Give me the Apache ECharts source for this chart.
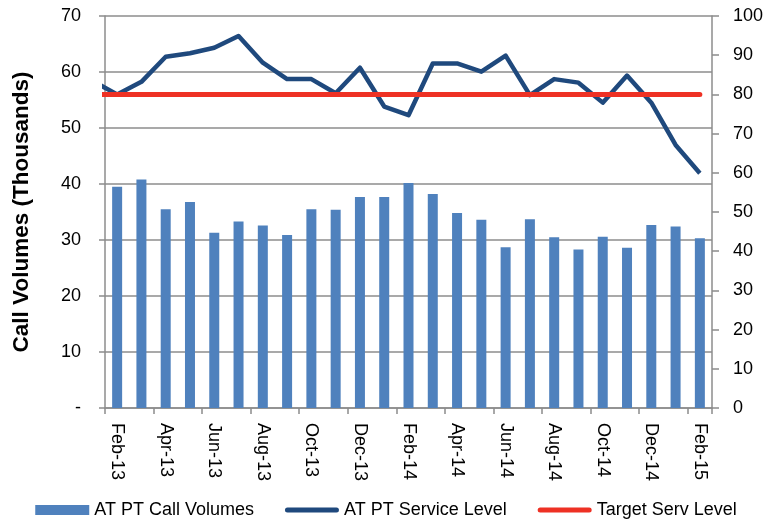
<!DOCTYPE html>
<html>
<head>
<meta charset="utf-8">
<script src="https://cdn.jsdelivr.net/npm/echarts@6/dist/echarts.min.js"></script>
<style>
  html, body { margin: 0; padding: 0; background: #fff; }
  #chart { width: 772px; height: 523px; }
</style>
</head>
<body>
<div id="chart"></div>
<script>
// Monthly categories, Feb-13 .. Feb-15
const months = ['Feb-13','Mar-13','Apr-13','May-13','Jun-13','Jul-13','Aug-13','Sep-13','Oct-13','Nov-13','Dec-13','Jan-14',
                'Feb-14','Mar-14','Apr-14','May-14','Jun-14','Jul-14','Aug-14','Sep-14','Oct-14','Nov-14','Dec-14','Jan-15','Feb-15'];

// Call volumes (thousands), left axis
const callVolumes = [39.5, 40.8, 35.5, 36.8, 31.3, 33.3, 32.6, 30.9, 35.5, 35.4, 37.7, 37.7,
                     40.2, 38.2, 34.8, 33.6, 28.7, 33.7, 30.5, 28.3, 30.6, 28.6, 32.7, 32.4, 30.3];

// Service level (%), right axis; the Jan-13 value sits just outside the plot and is clipped
const serviceLevelJan13 = 83.4;
const serviceLevel = [80.0, 83.2, 89.6, 90.5, 91.9, 94.9, 88.1, 83.9, 83.9, 80.3, 86.8, 76.9,
                      74.7, 87.9, 87.9, 85.8, 89.9, 79.8, 83.9, 83.0, 77.9, 84.8, 77.9, 67.1, 59.9];

// Target service level (%)
const targetLevel = 80;

// Tick labels
const leftTicks = ['-', '10', '20', '30', '40', '50', '60', '70'];

const FONT = 'Liberation Sans';
const GRID_GREY = '#8c8c8c';

// Line points placed on a hidden numeric x axis aligned with the category centres
const servicePoints = [[-1, serviceLevelJan13]].concat(serviceLevel.map((v, i) => [i, v]));
const targetPoints = [[-1, targetLevel]].concat(months.map((m, i) => [i, targetLevel]));

// Rounded bar used as the legend icon for the two line series
const lineIcon = 'path://M2.5,0 L51.5,0 A2.5,2.5 0 0 1 51.5,5 L2.5,5 A2.5,2.5 0 0 1 2.5,0 Z';

const chart = echarts.init(document.getElementById('chart'), null, { renderer: 'canvas' });

chart.setOption({
  animation: false,
  backgroundColor: '#ffffff',
  textStyle: { fontFamily: FONT },
  grid: { left: 105, right: 60, top: 16, bottom: 115, containLabel: false },
  legend: {
    top: 496,
    left: 'center',
    itemGap: 31,
    itemWidth: 54,
    itemHeight: 10,
    symbolKeepAspect: true,
    textStyle: { fontFamily: FONT, fontSize: 18, color: '#000' },
    data: [
      { name: 'AT PT Call Volumes', icon: 'rect' },
      { name: 'AT PT Service Level', icon: lineIcon },
      { name: 'Target Serv Level', icon: lineIcon }
    ]
  },
  xAxis: [
    {
      type: 'category',
      data: months,
      boundaryGap: true,
      axisLine: { lineStyle: { color: GRID_GREY, width: 1.5 } },
      axisTick: { show: true, interval: 1, length: 6, lineStyle: { color: GRID_GREY, width: 1.5 } },
      axisLabel: {
        interval: 1,
        rotate: -90,
        margin: 15,
        fontFamily: FONT,
        fontSize: 18,
        color: '#000'
      },
      splitLine: { show: false }
    },
    {
      type: 'value',
      min: -0.5,
      max: 24.5,
      show: false
    }
  ],
  yAxis: [
    {
      type: 'value',
      min: 0,
      max: 70,
      interval: 10,
      position: 'left',
      name: 'Call Volumes (Thousands)',
      nameLocation: 'middle',
      nameGap: 72,
      nameRotate: 90,
      nameTextStyle: { fontFamily: FONT, fontSize: 22.5, fontWeight: 'bold', color: '#000' },
      axisLine: { show: true, onZero: false, lineStyle: { color: GRID_GREY, width: 1.5 } },
      axisTick: { show: true, length: 6, lineStyle: { color: GRID_GREY, width: 1.5 } },
      axisLabel: {
        margin: 24,
        fontFamily: FONT,
        fontSize: 18,
        color: '#000',
        formatter: (v) => leftTicks[Math.round(v / 10)]
      },
      splitLine: { show: true, lineStyle: { color: GRID_GREY, width: 1.5 } }
    },
    {
      type: 'value',
      min: 0,
      max: 100,
      interval: 10,
      position: 'right',
      axisLine: { show: true, onZero: false, lineStyle: { color: GRID_GREY, width: 1.5 } },
      axisTick: { show: true, length: 7, lineStyle: { color: GRID_GREY, width: 1.5 } },
      axisLabel: { margin: 21, fontFamily: FONT, fontSize: 18, color: '#000' },
      splitLine: { show: false }
    }
  ],
  series: [
    {
      name: 'AT PT Call Volumes',
      type: 'bar',
      xAxisIndex: 0,
      yAxisIndex: 0,
      barWidth: 10,
      data: callVolumes,
      itemStyle: { color: '#4F81BD' }
    },
    {
      name: 'AT PT Service Level',
      type: 'line',
      xAxisIndex: 1,
      yAxisIndex: 1,
      data: servicePoints,
      symbol: 'none',
      clip: true,
      lineStyle: { color: '#1F497D', width: 4.5, join: 'round' },
      itemStyle: { color: '#1F497D' },
      z: 3
    },
    {
      name: 'Target Serv Level',
      type: 'line',
      xAxisIndex: 1,
      yAxisIndex: 1,
      data: targetPoints,
      symbol: 'none',
      clip: true,
      lineStyle: { color: '#EE3124', width: 5, cap: 'round' },
      itemStyle: { color: '#EE3124' },
      z: 4
    }
  ]
});
</script>
</body>
</html>
